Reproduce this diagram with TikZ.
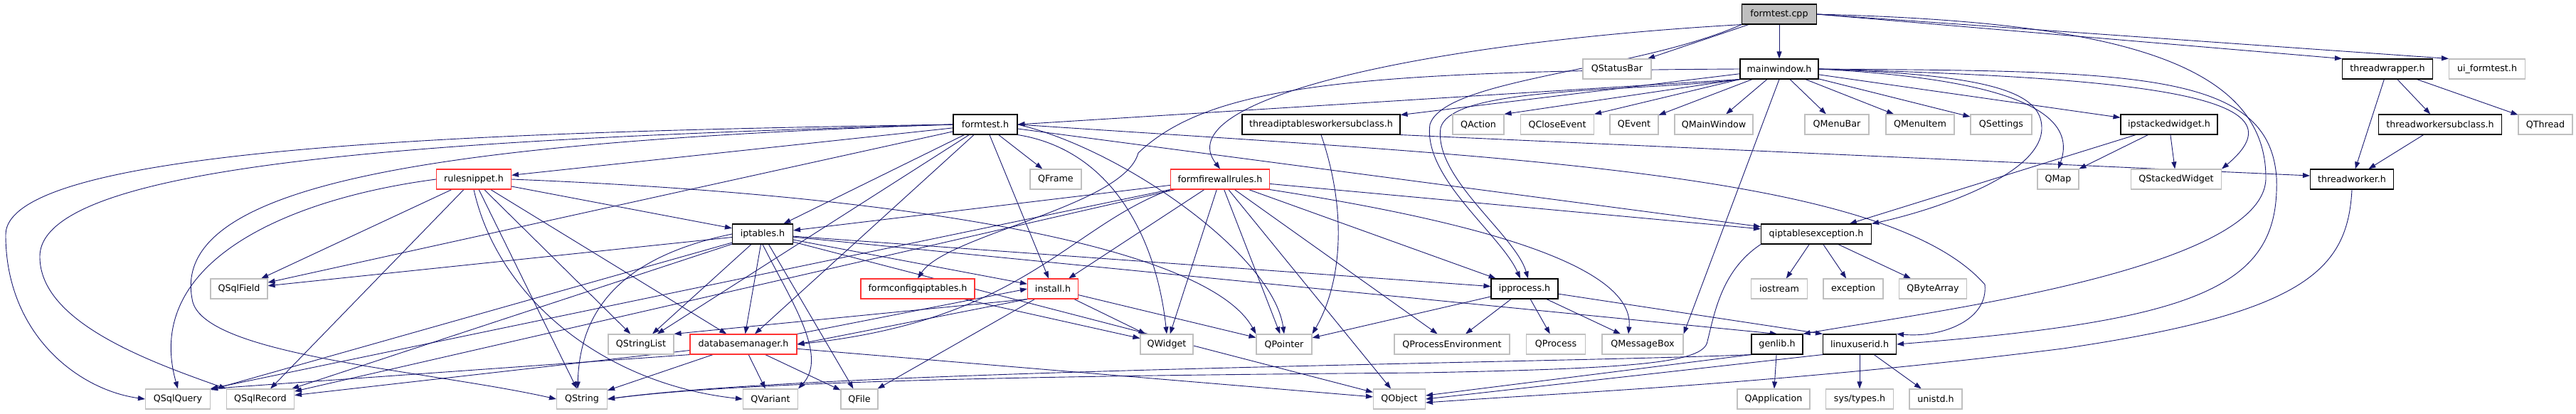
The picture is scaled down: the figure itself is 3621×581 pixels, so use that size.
\documentclass[tikz,border=0pt]{standalone}
\usepackage{fontspec}
\setmainfont{DejaVu Sans}
\usetikzlibrary{arrows.meta,backgrounds}
\definecolor{edgeblue}{HTML}{191970}
\definecolor{libgray}{HTML}{BFBFBF}
\definecolor{cutred}{HTML}{FF3333}
\tikzset{
  hdr/.style={draw=black, line width=1.1pt, fill=white, minimum height=28pt, inner sep=0pt,
    font=\fontsize{12.7}{15}\selectfont},
  lib/.style={hdr, draw=libgray},
  cut/.style={hdr, draw=cutred},
  src/.style={hdr, fill=libgray},
  inc/.style={draw=edgeblue, line width=0.9pt, -{Triangle[length=10pt,width=7pt]}},
}
\begin{document}
\begin{tikzpicture}[x=1pt,y=-1pt]
\useasboundingbox (0,0) rectangle (3621,581);

% row 0 and 1
\node[src, minimum width=105pt] (fcpp) at (2501,20) {formtest.cpp};
\node[lib, minimum width=96pt] (qstatusbar) at (2273,97) {QStatusBar};
\node[hdr, minimum width=110pt] (mainwin) at (2501,97) {mainwindow.h};
\node[hdr, minimum width=127pt] (thwrap) at (3356,97) {threadwrapper.h};
\node[lib, minimum width=107pt] (uiform) at (3496,97) {ui\_formtest.h};

% row 2
\node[hdr, minimum width=90pt] (formtesth) at (1385,175) {formtest.h};
\node[hdr, minimum width=222pt] (thipt) at (1857,175) {threadiptablesworkersubclass.h};
\node[lib, minimum width=72pt] (qaction) at (2078,175) {QAction};
\node[lib, minimum width=103pt] (qclose) at (2189,175) {QCloseEvent};
\node[lib, minimum width=68pt] (qevent) at (2297,175) {QEvent};
\node[lib, minimum width=110pt] (qmainwin) at (2409,175) {QMainWindow};
\node[lib, minimum width=90pt] (qmenubar) at (2582,175) {QMenuBar};
\node[lib, minimum width=96pt] (qmenuitem) at (2699,175) {QMenuItem};
\node[lib, minimum width=86pt] (qsettings) at (2813,175) {QSettings};
\node[hdr, minimum width=136pt] (ipstack) at (3049,175) {ipstackedwidget.h};
\node[hdr, minimum width=173pt] (thsub) at (3430,175) {threadworkersubclass.h};
\node[lib, minimum width=76pt] (qthread) at (3578,175) {QThread};

% row 3
\node[cut, minimum width=105pt] (rulesnip) at (666,252) {rulesnippet.h};
\node[lib, minimum width=72pt] (qframe) at (1484,252) {QFrame};
\node[cut, minimum width=139pt] (formfw) at (1715,252) {formfirewallrules.h};
\node[lib, minimum width=58pt] (qmap) at (2893,252) {QMap};
\node[lib, minimum width=127pt] (qstackw) at (3059,252) {QStackedWidget};
\node[hdr, minimum width=117pt] (thworker) at (3306,252) {threadworker.h};

% row 4
\node[hdr, minimum width=85pt] (iptables) at (1072,329) {iptables.h};
\node[hdr, minimum width=155pt] (qiptexc) at (2553,329) {qiptablesexception.h};

% row 5
\node[lib, minimum width=80pt] (qsqlfield) at (336,406) {QSqlField};
\node[cut, minimum width=160pt] (formcfg) at (1290,406) {formconfigqiptables.h};
\node[cut, minimum width=71pt] (install) at (1480,406) {install.h};
\node[hdr, minimum width=94pt] (ipproc) at (2143,406) {ipprocess.h};
\node[lib, minimum width=79pt] (iostream) at (2501,406) {iostream};
\node[lib, minimum width=84pt] (exception) at (2605,406) {exception};
\node[lib, minimum width=95pt] (qbytearray) at (2717,406) {QByteArray};

% row 6
\node[lib, minimum width=92pt] (qstringlist) at (901,484) {QStringList};
\node[cut, minimum width=150pt] (dbman) at (1045,484) {databasemanager.h};
\node[lib, minimum width=74pt] (qwidget) at (1640,484) {QWidget};
\node[lib, minimum width=78pt] (qpointer) at (1805,484) {QPointer};
\node[lib, minimum width=162pt] (qprocenv) at (2041,484) {QProcessEnvironment};
\node[lib, minimum width=83pt] (qprocess) at (2187,484) {QProcess};
\node[lib, minimum width=114pt] (qmsgbox) at (2309,484) {QMessageBox};
\node[hdr, minimum width=72pt] (genlib) at (2498,484) {genlib.h};
\node[hdr, minimum width=103pt] (linuxuid) at (2614,484) {linuxuserid.h};

% row 7
\node[lib, minimum width=91pt] (qsqlquery) at (250,561) {QSqlQuery};
\node[lib, minimum width=95pt] (qsqlrecord) at (366,561) {QSqlRecord};
\node[lib, minimum width=71pt] (qstring) at (818,561) {QString};
\node[lib, minimum width=77pt] (qvariant) at (1083,561) {QVariant};
\node[lib, minimum width=52pt] (qfile) at (1208,561) {QFile};
\node[lib, minimum width=73pt] (qobject) at (1967,561) {QObject};
\node[lib, minimum width=102pt] (qapp) at (2493,561) {QApplication};
\node[lib, minimum width=95pt] (systypes) at (2614,561) {sys/types.h};
\node[lib, minimum width=74pt] (unistd) at (2721,561) {unistd.h};

\begin{scope}[on background layer]
% formtest.cpp
\draw[inc] (fcpp) -- (mainwin);
\draw[inc] (fcpp) -- (qstatusbar);
\draw[inc] (fcpp.east) -- (thwrap.north west);
\draw[inc] (fcpp.east) -- (uiform.north west);
\draw[inc] (fcpp.south west) .. controls (2000,60) and (1640,140) .. (formfw.north);
\draw[inc] (fcpp.south west) .. controls (2300,100) and (2030,110) .. (2010,175)
  .. controls (2000,250) and (2110,330) .. ([xshift=-6pt]ipproc.north);
\draw[inc] (fcpp.east) .. controls (2950,30) and (3185,80) .. (3185,250)
  .. controls (3185,380) and (2700,440) .. (genlib.north east);

% mainwindow.h
\foreach \t in {qevent,qmainwin,qmenubar,qmenuitem,qsettings,ipstack,thipt}
  \draw[inc] (mainwin) -- (\t);
\draw[inc] (mainwin.south west) -- (formtesth.east);
\draw[inc] (mainwin.south west) -- (qaction.north east);
\draw[inc] (mainwin.south west) -- (qclose.north east);
\draw[inc] (mainwin.south) -- (qmsgbox.north east);
\draw[inc] (mainwin.east) .. controls (2800,110) and (2925,150) .. (qmap.north);
\draw[inc] (mainwin.east) .. controls (3050,110) and (3240,140) .. (qstackw.north east);
\draw[inc] (mainwin.east) .. controls (2800,105) and (2870,130) .. (2870,180)
  .. controls (2870,250) and (2700,300) .. (qiptexc.north east);
\draw[inc] (mainwin.east) .. controls (3000,100) and (3190,100) .. (3200,250)
  .. controls (3205,400) and (3100,450) .. (linuxuid.east);
\draw[inc] (mainwin.west) .. controls (1900,100) and (1700,120) .. (1600,215)
  .. controls (1580,290) and (1330,330) .. (formcfg.north);
\draw[inc] (mainwin.south west) .. controls (2300,130) and (2040,120) .. (2025,180)
  .. controls (2015,250) and (2130,330) .. ([xshift=5pt]ipproc.north);

% formtest.h
\foreach \t in {rulesnip,qframe,iptables,install,dbman,qstringlist,qsqlfield,qiptexc}
  \draw[inc] (formtesth) -- (\t);
\draw[inc] (formtesth.south east) .. controls (1560,210) and (1625,330) .. (qwidget.north);
\draw[inc] (formtesth.east) .. controls (1580,210) and (1790,360) .. (qpointer.north);
\draw[inc] (formtesth.west) .. controls (700,185) and (8,205) .. (8,330)
  .. controls (8,470) and (110,548) .. (qsqlquery.west);
\draw[inc] (formtesth.west) .. controls (650,195) and (58,225) .. (56,360)
  .. controls (55,450) and (200,505) .. (qsqlrecord.north west);
\draw[inc] (formtesth.west) .. controls (600,200) and (240,260) .. (270,420)
  .. controls (280,500) and (600,520) .. (qstring.west);
\draw[inc] (formtesth.east) .. controls (2100,220) and (2650,240) .. (2790,400)
  .. controls (2795,450) and (2730,475) .. (linuxuid.north east);

% threadiptablesworkersubclass.h
\draw[inc] (thipt.south east) -- ([yshift=5pt]thworker.west);
\draw[inc] (thipt.south) .. controls (1895,300) and (1885,400) .. (qpointer.north east);

% ipstackedwidget.h
\foreach \t in {qmap,qstackw,qiptexc}
  \draw[inc] (ipstack) -- (\t);

% threads
\foreach \t in {thworker,thsub,qthread}
  \draw[inc] (thwrap) -- (\t);
\draw[inc] (thsub) -- (thworker);
\draw[inc] (thworker.south) .. controls (3300,380) and (3240,440) .. (2900,490)
  .. controls (2500,540) and (2200,552) .. ([yshift=-5pt]qobject.east);

% rulesnippet.h
\foreach \t in {iptables,dbman,qsqlfield,qsqlrecord,qstringlist,qstring}
  \draw[inc] (rulesnip) -- (\t);
\draw[inc] (rulesnip.west) .. controls (400,280) and (200,370) .. (qsqlquery.north);
\draw[inc] (rulesnip.south) .. controls (700,420) and (850,540) .. (qvariant.west);
\draw[inc] (rulesnip.east) .. controls (1300,275) and (1700,350) .. (qpointer.north west);

% formfirewallrules.h
\foreach \t in {iptables,install,ipproc,qiptexc,qwidget,qpointer,qprocenv,qsqlrecord,qobject}
  \draw[inc] (formfw) -- (\t);
\draw[inc] (formfw) -- (qsqlquery.north east);
\draw[inc] (formfw.south east) .. controls (2000,300) and (2300,360) .. ([xshift=-20pt]qmsgbox.north);
\draw[inc] (formfw.south west) .. controls (1500,320) and (1440,450) .. (dbman.east);

% formconfigqiptables.h
\draw[inc] (formcfg) -- (qwidget);

% iptables.h
\foreach \t in {qsqlfield,qsqlquery,qsqlrecord,qstringlist,dbman,qfile,install,ipproc,qobject}
  \draw[inc] (iptables) -- (\t);
\draw[inc] (iptables) -- (genlib.north);
\draw[inc] (iptables.west) .. controls (880,360) and (815,430) .. ([xshift=-6pt]qstring.north);
\draw[inc] (iptables.south) .. controls (1110,420) and (1165,500) .. (qvariant.north east);

% install.h
\draw[inc] (install) -- (qwidget);
\draw[inc] (install) -- (qpointer);
\draw[inc] (install) -- (qfile);
\draw[inc] (install.south west) -- (dbman.east);
\draw[inc] (install.south west) -- (qstringlist.north east);

% databasemanager.h
\foreach \t in {qsqlrecord,qstring,qvariant,qfile,qobject}
  \draw[inc] (dbman) -- (\t);
\draw[inc] (dbman.south west) -- (qsqlquery.north east);
\draw[inc] (dbman.north east) -- (install.west);

% ipprocess.h
\foreach \t in {qprocenv,qprocess,qmsgbox,qpointer}
  \draw[inc] (ipproc) -- (\t);
\draw[inc] (ipproc) -- (linuxuid.north west);

% qiptablesexception.h
\foreach \t in {iostream,exception,qbytearray}
  \draw[inc] (qiptexc) -- (\t);
\draw[inc] (qiptexc.south west) .. controls (2420,380) and (2410,440) .. (2400,480)
  .. controls (2395,510) and (2300,518) .. (2000,524)
  .. controls (1500,528) and (1050,535) .. (qstring.east);

% genlib.h, linuxuserid.h
\draw[inc] (genlib) -- (qapp);
\draw[inc] (genlib.south west) -- ([yshift=5pt]qobject.east);
\draw[inc] (genlib.south west) .. controls (2200,510) and (1150,520) .. (qstring.east);
\draw[inc] (linuxuid) -- (systypes);
\draw[inc] (linuxuid) -- (unistd);
\draw[inc] (linuxuid.south west) -- (qobject.east);
\end{scope}
\end{tikzpicture}
\end{document}
